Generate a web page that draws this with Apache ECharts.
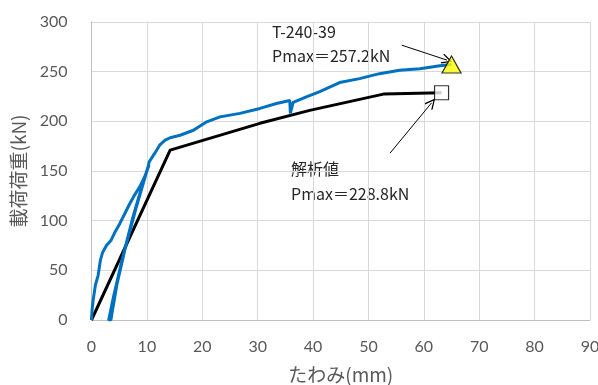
<!DOCTYPE html>
<html>
<head>
<meta charset="utf-8">
<script src="https://cdn.jsdelivr.net/npm/echarts@6/dist/echarts.min.js"></script>
<style>
  html, body { margin: 0; padding: 0; background: #fff; }
  #chart { width: 598px; height: 385px; }
</style>
</head>
<body>
<div id="chart"></div>
<script>
// Test curve T-240-39: deflection (mm) vs load (kN), including the unload/reload cycle
const testCurve = [
  [0, 0], [0.1, 10], [0.3, 20], [0.7, 35], [1.2, 45], [1.6, 60], [2.0, 68], [2.7, 75],
  [3.5, 80], [4.2, 88], [5.1, 97], [6.0, 107], [6.9, 117], [7.8, 126], [8.7, 134],
  [9.5, 143], [10.0, 150], [10.4, 156],
  [10.1, 152], [8.0, 112], [6.0, 70], [4.6, 36], [3.8, 10], [3.5, 0],
  [3.1, 0], [4.0, 24], [5.5, 60], [7.5, 104], [9.4, 140], [10.2, 154], [10.4, 159],
  [11.4, 167.7], [12.3, 176], [13.3, 181], [14.2, 183.5], [16.0, 186], [18.4, 191],
  [20.8, 199.5], [23.2, 204.5], [26.8, 208], [30.4, 213], [33.4, 218], [35.8, 221],
  [35.9, 208], [36.4, 219], [38.8, 224.7], [41.2, 230], [44.8, 239], [48.4, 243],
  [52.0, 248], [55.6, 251.5], [59.3, 253], [62.9, 256], [65.0, 257.2]
];
// Analytical curve (解析値)
const analysisCurve = [
  [0, 0], [14.2, 171], [30.4, 198], [39.4, 211], [52.7, 227.4], [63.2, 228.8]
];
// Peak loads
const testPeak = [65.0, 257.2];
const analysisPeak = [63.2, 228.8];

const xTicks = { min: 0, max: 90, interval: 10 };
const yTicks = { min: 0, max: 300, interval: 50 };

// Callout arrows [from, to] in data units
const testArrow = [[56.0, 276.7], [64.2, 261.6]];
const analysisArrow = [[53.9, 168], [61.4, 218.6]];

const labelFont = 'Lato, "Noto Sans CJK JP", sans-serif';
const jpFont = '"Noto Sans CJK JP", sans-serif';
const grey = '#595959';
const noteColor = '#262626';
// open (line-style) arrow head, pointing up in its own frame
const openArrow = 'path://M5 0 L10 9 L9 10 L5 2.4 L1 10 L0 9 Z';

const chart = echarts.init(document.getElementById('chart'), null, { renderer: 'canvas' });

function arrowLine(pair) {
  return {
    type: 'line',
    data: [],
    silent: true,
    markLine: {
      silent: true,
      symbol: ['none', openArrow],
      symbolSize: [10, 11],
      lineStyle: { color: '#000', width: 1, type: 'solid' },
      itemStyle: { color: '#000' },
      label: { show: false },
      data: [[{ coord: pair[0] }, { coord: pair[1] }]]
    }
  };
}

chart.setOption({
  animation: false,
  grid: { left: 91.5, right: 8, top: 22, bottom: 65, containLabel: false, outerBoundsMode: 'none' },
  xAxis: {
    type: 'value', min: xTicks.min, max: xTicks.max, interval: xTicks.interval,
    name: 'たわみ(mm)', nameLocation: 'middle', nameGap: 45,
    nameTextStyle: { color: grey, fontSize: 19, fontFamily: jpFont },
    axisLine: { show: true, lineStyle: { color: '#bfbfbf', width: 1 } },
    axisTick: { show: false },
    axisLabel: { color: grey, fontSize: 16, fontFamily: labelFont, margin: 19 },
    splitLine: { show: true, lineStyle: { color: '#d9d9d9', width: 1 } }
  },
  yAxis: {
    type: 'value', min: yTicks.min, max: yTicks.max, interval: yTicks.interval,
    name: '載荷荷重(kN)', nameLocation: 'middle', nameGap: 63, nameRotate: 90,
    nameTextStyle: { color: grey, fontSize: 19, fontFamily: jpFont },
    axisLine: { show: true, lineStyle: { color: '#bfbfbf', width: 1 } },
    axisTick: { show: false },
    axisLabel: { color: grey, fontSize: 16, fontFamily: labelFont, margin: 24 },
    splitLine: { show: true, lineStyle: { color: '#d9d9d9', width: 1 } }
  },
  series: [
    {
      name: '解析値', type: 'line', data: analysisCurve, showSymbol: false,
      lineStyle: { color: '#000', width: 3 }, z: 2
    },
    {
      name: 'T-240-39', type: 'line', data: testCurve, showSymbol: false,
      lineStyle: { color: '#0070C0', width: 3 }, z: 3
    },
    {
      type: 'scatter', data: [analysisPeak], symbol: 'rect', symbolSize: 14,
      itemStyle: { color: '#fff', borderColor: '#000', borderWidth: 1.2 }, z: 5
    },
    {
      type: 'scatter', data: [testPeak], symbol: 'triangle', symbolSize: [19, 17],
      itemStyle: { color: '#FFFF00', borderColor: '#000', borderWidth: 1.2 }, z: 5
    },
    arrowLine(testArrow),
    arrowLine(analysisArrow)
  ],
  graphic: [
    { type: 'text', left: 272, top: 24, style: { text: 'T-240-39', fill: noteColor, font: '16px ' + jpFont } },
    { type: 'text', left: 272, top: 48, style: { text: 'Pmax＝' + testPeak[1].toFixed(1) + 'kN', fill: noteColor, font: '16px ' + jpFont } },
    { type: 'text', left: 291, top: 161, style: { text: '解析値', fill: noteColor, font: '16px ' + jpFont } },
    { type: 'text', left: 291, top: 186, style: { text: 'Pmax＝' + analysisPeak[1].toFixed(1) + 'kN', fill: noteColor, font: '16px ' + jpFont } }
  ]
});
</script>
</body>
</html>
